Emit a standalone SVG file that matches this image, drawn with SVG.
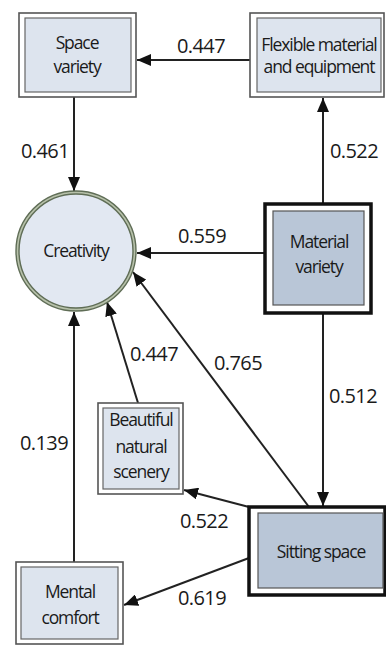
<svg xmlns="http://www.w3.org/2000/svg" width="386" height="645" viewBox="0 0 386 645">
<style>
  .t { font-family: "Open Sans", "Noto Sans", sans-serif; font-size: 17.5px; letter-spacing: -1.1px; fill: #1a1a1a; text-anchor: middle; }
  .n { font-family: "Open Sans", "Noto Sans", sans-serif; font-size: 20px; letter-spacing: -0.6px; fill: #1a1a1a; }
  .ob { fill: #fff; stroke: #555; stroke-width: 1.6; }
  .ib { fill: #dde4ee; stroke: #666; stroke-width: 1.2; }
  .obk { fill: #fff; stroke: #111; stroke-width: 3.5; }
  .ibk { fill: #b9c6d7; stroke: #555; stroke-width: 1.2; }
  .c { stroke: #222; stroke-width: 2; fill: none; marker-end: url(#ah); }
</style>
<defs>
  <marker id="ah" markerUnits="userSpaceOnUse" markerWidth="14" markerHeight="12" viewBox="0 0 14 12" refX="14" refY="6" orient="auto">
    <path d="M0,0 L14,6 L0,12 Z" fill="#111"/>
  </marker>
</defs>
<rect width="386" height="645" fill="#fff"/>

<g id="connectors">
  <line class="c" x1="250" y1="60" x2="137" y2="60"/>
  <line class="c" x1="74" y1="97" x2="74" y2="191"/>
  <line class="c" x1="323" y1="204" x2="323" y2="98"/>
  <line class="c" x1="265" y1="253" x2="137" y2="253"/>
  <line class="c" x1="323" y1="313" x2="323" y2="506"/>
  <line class="c" x1="309" y1="507" x2="133" y2="272"/>
  <line class="c" x1="138" y1="403" x2="107" y2="302"/>
  <line class="c" x1="249" y1="507" x2="184" y2="490"/>
  <line class="c" x1="249" y1="558" x2="124" y2="605"/>
  <line class="c" x1="74" y1="562" x2="74" y2="312"/>
  <text class="n" x="177" y="53">0.447</text>
  <text class="n" x="21" y="158">0.461</text>
  <text class="n" x="330" y="158">0.522</text>
  <text class="n" x="178" y="243">0.559</text>
  <text class="n" x="214" y="370">0.765</text>
  <text class="n" x="329" y="403">0.512</text>
  <text class="n" x="130" y="361">0.447</text>
  <text class="n" x="20" y="450">0.139</text>
  <text class="n" x="180" y="528">0.522</text>
  <text class="n" x="178" y="605">0.619</text>
</g>

<g id="space-variety">
  <rect class="ob" x="19" y="13" width="117" height="84"/>
  <rect class="ib" x="25" y="18" width="106" height="74"/>
  <text class="t" x="77" y="49">Space</text>
  <text class="t" x="77" y="73">variety</text>
</g>

<g id="flexible">
  <rect class="ob" x="250" y="13" width="134" height="84"/>
  <rect class="ib" x="257" y="18" width="124" height="74"/>
  <text class="t" x="319" y="51">Flexible material</text>
  <text class="t" x="319" y="73">and equipment</text>
</g>

<g id="creativity">
  <circle cx="76" cy="251" r="60" fill="#b7c1aa" stroke="#5f6d56" stroke-width="1.4"/>
  <circle cx="76" cy="251" r="57" fill="#e2e8f2" stroke="#5f6d56" stroke-width="1.4"/>
  <text class="t" x="76" y="257">Creativity</text>
</g>

<g id="material-variety">
  <rect class="obk" x="265" y="204" width="106" height="109"/>
  <rect class="ibk" x="273" y="211" width="91" height="94"/>
  <text class="t" x="319" y="248">Material</text>
  <text class="t" x="319" y="273">variety</text>
</g>

<g id="beautiful">
  <rect class="ob" x="98" y="403" width="85" height="91"/>
  <rect class="ib" x="103" y="408" width="76" height="81"/>
  <text class="t" x="141" y="426">Beautiful</text>
  <text class="t" x="141" y="453">natural</text>
  <text class="t" x="141" y="478">scenery</text>
</g>

<g id="sitting-space">
  <rect class="obk" x="249" y="507" width="136" height="88"/>
  <rect class="ibk" x="258" y="513" width="125" height="75"/>
  <text class="t" x="321" y="558">Sitting space</text>
</g>

<g id="mental-comfort">
  <rect class="ob" x="16" y="562" width="107" height="82"/>
  <rect class="ib" x="21" y="567" width="97" height="72"/>
  <text class="t" x="70" y="598">Mental</text>
  <text class="t" x="70" y="624">comfort</text>
</g>
</svg>
